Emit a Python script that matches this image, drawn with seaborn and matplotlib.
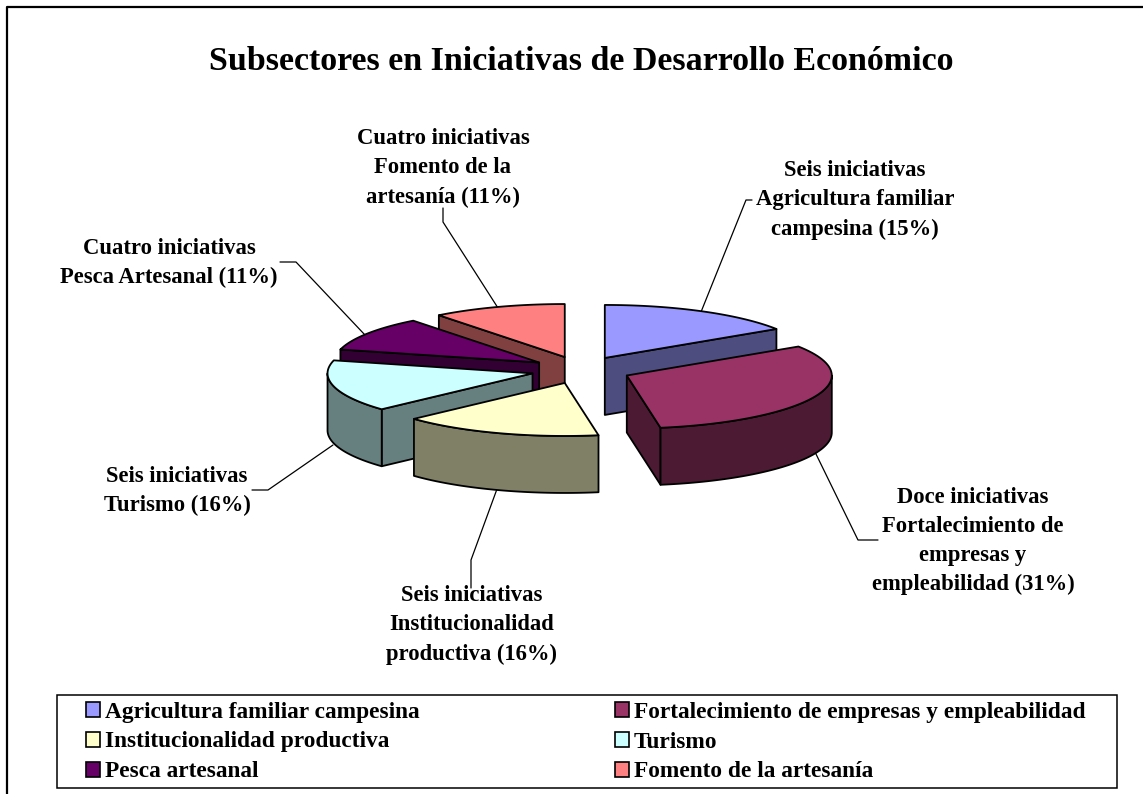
import numpy as np
import pandas as pd
import matplotlib
matplotlib.use("Agg")
import matplotlib.pyplot as plt
import seaborn as sns
from matplotlib.patches import Patch, Polygon, Rectangle

# datos del grafico
subsectores = ["Agricultura familiar campesina", "Fortalecimiento de empresas y empleabilidad",
               "Institucionalidad productiva", "Turismo", "Pesca artesanal", "Fomento de la artesanía"]
iniciativas = [6, 12, 6, 6, 4, 4]
etiquetas = ["Seis iniciativas\nAgricultura familiar\ncampesina (15%)",
             "Doce iniciativas\nFortalecimiento de\nempresas y\nempleabilidad (31%)",
             "Seis iniciativas\nInstitucionalidad\nproductiva (16%)",
             "Seis iniciativas\nTurismo (16%)",
             "Cuatro iniciativas\nPesca Artesanal (11%)",
             "Cuatro iniciativas\nFomento de la\nartesanía (11%)"]
titulo = "Subsectores en Iniciativas de Desarrollo Económico"
colores = ["#9999FF", "#993366", "#FFFFCC", "#CCFFFF", "#660066", "#FF8080"]

df = pd.DataFrame({"subsector": subsectores, "n": iniciativas})
df["fin"] = df["n"].cumsum() / df["n"].sum() * 360
df["inicio"] = df["fin"] - df["n"] / df["n"].sum() * 360
df["medio"] = (df["inicio"] + df["fin"]) / 2

sns.set_theme(style="white")
plt.rcParams["font.family"] = ["Liberation Serif", "DejaVu Serif"]

fig = plt.figure(figsize=(11.43, 7.94), dpi=100)
ax = fig.add_axes([0, 0, 1, 1])
ax.set_xlim(0, 1143)
ax.set_ylim(794, 0)
ax.axis("off")

# marco exterior
ax.plot([7, 7, 1143], [794, 7, 7], color="black", lw=1.6, clip_on=False)

ax.text(581, 61, titulo, ha="center", va="center", fontsize=24.5, fontweight="bold", color="black")

# lineas guia
guias = [([752, 746, 701], [200, 200, 312]),
         ([878, 858, 815], [540, 540, 452]),
         ([471, 471, 497], [588, 560, 489]),
         ([252, 268, 333], [490, 490, 445]),
         ([280, 296, 365], [262, 262, 335]),
         ([443, 443, 498], [208, 222, 308])]
for gx, gy in guias:
    ax.plot(gx, gy, color="black", lw=0.9, zorder=1)

# pastel 3D: elipse + profundidad
cx, cy = 581, 370
rx, ry = 205, 53
ex, ey = 50, 13.7
prof = 57


def borde(x0, y0, ang):
    t = np.radians(ang)
    return x0 + rx * np.sin(t), y0 - ry * np.cos(t)


def oscuro(color):
    return tuple(c * 0.5 for c in matplotlib.colors.to_rgb(color))


df["x0"] = cx + ex * np.sin(np.radians(df["medio"]))
df["y0"] = cy - ey * np.cos(np.radians(df["medio"]))
z = 2
for i, fila in df.sort_values("y0").iterrows():
    a, b, x0, y0 = fila["inicio"], fila["fin"], fila["x0"], fila["y0"]
    lado = oscuro(colores[i])
    kw = dict(edgecolor="black", lw=1.3, joinstyle="round")
    # caras radiales visibles
    for ang, visible in [(a, np.sin(np.radians(a)) < -1e-6), (b, np.sin(np.radians(b)) > 1e-6)]:
        if visible:
            px, py = borde(x0, y0, ang)
            ax.add_patch(Polygon([(x0, y0), (px, py), (px, py + prof), (x0, y0 + prof)],
                                 facecolor=lado, zorder=z, **kw))
    # pared exterior
    a2, b2 = max(a, 90), min(b, 270)
    if b2 > a2:
        angs = np.linspace(a2, b2, 60)
        px, py = borde(x0, y0, angs)
        pts = list(zip(px, py)) + list(zip(px[::-1], py[::-1] + prof))
        ax.add_patch(Polygon(pts, facecolor=lado, zorder=z, **kw))
    # cara superior
    angs = np.linspace(a, b, 60)
    px, py = borde(x0, y0, angs)
    ax.add_patch(Polygon([(x0, y0)] + list(zip(px, py)), facecolor=colores[i], zorder=z + 0.5, **kw))
    z += 1

# etiquetas de datos
pos_etiquetas = [(855, 200), (973, 541), (472, 625), (177, 491), (169, 263), (443, 168)]
for txt, (tx, ty) in zip(etiquetas, pos_etiquetas):
    ax.text(tx, ty, txt, ha="center", va="center", fontsize=16.3, fontweight="bold",
            color="black", linespacing=1.5, zorder=20)

# leyenda
ax.add_patch(Rectangle((57, 695), 1060, 93, facecolor="white", edgecolor="black", lw=1.1, zorder=1))
handles = [Patch(facecolor=c, edgecolor="black", lw=1.2) for c in colores]
orden = [0, 2, 4, 1, 3, 5]
ley = ax.legend([handles[i] for i in orden], [subsectores[i] for i in orden], ncol=2, frameon=False,
                loc="center left", bbox_to_anchor=(86, 742), bbox_transform=ax.transData,
                prop={"size": 16.8, "weight": "bold"}, handlelength=0.6, handleheight=0.6,
                handletextpad=0.2, labelspacing=0.38, columnspacing=8.4, borderpad=0, borderaxespad=0,
                labelcolor="black")

fig.savefig("out.png", dpi=100)
